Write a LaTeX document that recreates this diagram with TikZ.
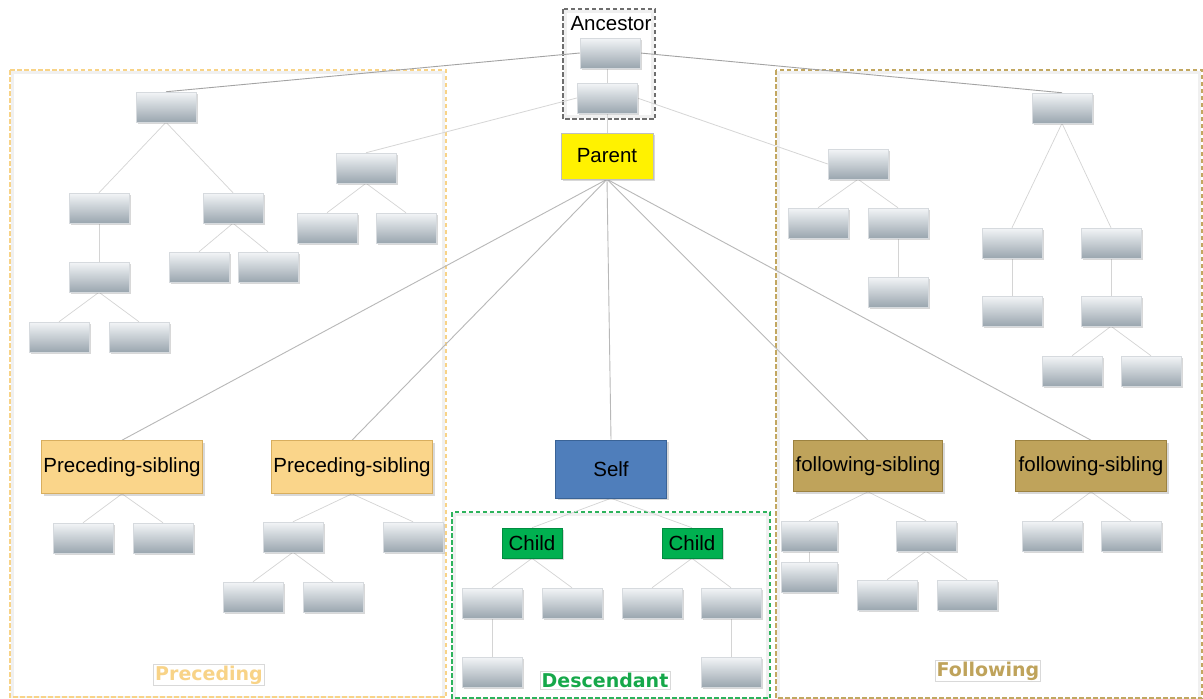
\documentclass[tikz,border=0pt]{standalone}
\usepackage{fontspec}
\setmainfont{Liberation Sans}
\newfontfamily\labelfont{DejaVu Sans}
\usetikzlibrary{shadows}

\definecolor{boxtop}{HTML}{F3F5F7}
\definecolor{boxbot}{HTML}{9AA6AF}
\definecolor{boxline}{HTML}{D6DADE}
\definecolor{precfill}{HTML}{FAD58A}
\definecolor{precline}{HTML}{D8AE5E}
\definecolor{precdash}{HTML}{F8D387}
\definecolor{follfill}{HTML}{BFA35B}
\definecolor{follline}{HTML}{9C8240}
\definecolor{folldash}{HTML}{C2A760}
\definecolor{selffill}{HTML}{4F7EBB}
\definecolor{selfline}{HTML}{3A6396}
\definecolor{childfill}{HTML}{00B050}
\definecolor{descdash}{HTML}{2DB35C}
\definecolor{desctext}{HTML}{16A84A}
\definecolor{anclinec}{HTML}{6E6E6E}

\pgfdeclarelayer{canvas}
\pgfdeclarelayer{bg}
\pgfsetlayers{canvas,bg,main}

\tikzset{
  gbox/.style={rectangle, minimum width=60pt, minimum height=30pt, inner sep=0pt,
    draw=boxline, line width=0.5pt, top color=boxtop, bottom color=boxbot,
    drop shadow={shadow xshift=1.5pt, shadow yshift=-1.5pt, opacity=0.3}},
  cbox/.style={rectangle, inner sep=0pt, line width=0.6pt,
    font=\fontsize{20.5}{23}\selectfont,
    drop shadow={shadow xshift=2pt, shadow yshift=-2pt, opacity=0.3}},
  tedge/.style={draw=black!17, line width=0.7pt},
  pedge/.style={draw=black!28, line width=0.9pt},
  aedge/.style={draw=black!36, line width=0.9pt},
  ledge/.style={draw=black!16, line width=0.8pt},
  halo/.style={draw=black!6, line width=2.5pt},
  framedash/.style={dashed, dash pattern=on 4.5pt off 2.5pt, line width=1.4pt},
  grouplabel/.style={font=\labelfont\bfseries\fontsize{19}{22}\selectfont,
    draw=black!15, line width=0.6pt, inner sep=1.5pt, fill=white},
}

\begin{document}
\begin{tikzpicture}[x=1pt, y=-1pt]
\useasboundingbox (0,0) rectangle (1203,699);
\begin{pgfonlayer}{canvas}
  \fill[white] (0,0) rectangle (1203,699);
\end{pgfonlayer}

% group frames: faint inner band, then the dashed outline
\begin{pgfonlayer}{bg}
  \draw[halo] (12.5,72.5) rectangle (443.5,697);
  \draw[framedash, draw=precdash] (10,70) rectangle (446,697);
  \draw[halo] (778.5,72.5) rectangle (1199.5,699);
  \draw[framedash, draw=folldash] (776,70) rectangle (1202,698);
  \draw[halo] (454.5,514.5) rectangle (767.5,699);
  \draw[framedash, draw=descdash] (452,512) rectangle (770,698);
  \draw[halo] (565.5,11.5) rectangle (652.5,116.5);
  \draw[framedash, draw=anclinec, line width=1.2pt] (563,9) rectangle (655,119);
\end{pgfonlayer}

% ancestor axis
\node[font=\fontsize{20.5}{23}\selectfont] (anc) at (611,24) {Ancestor};
\node[gbox] (a1) at (610,53) {};
\node[gbox] (a2) at (607,98) {};
\node[cbox, fill=yellow, draw=black!25, minimum width=92pt, minimum height=46pt] (parent) at (607,156) {Parent};

% preceding side
\node[gbox] (l1) at (166,107) {};
\node[gbox] (l2a) at (99,208) {};
\node[gbox] (l2b) at (233,208) {};
\node[gbox] (l3) at (99,277) {};
\node[gbox] (l4a) at (59,337) {};
\node[gbox] (l4b) at (139,337) {};
\node[gbox] (l2ba) at (199,267) {};
\node[gbox] (l2bb) at (268,267) {};
\node[gbox] (lm) at (366,168) {};
\node[gbox] (lma) at (327,228) {};
\node[gbox] (lmb) at (406,228) {};

\node[cbox, fill=precfill, draw=precline, minimum width=161pt, minimum height=53pt] (ps1) at (122,467) {Preceding-sibling};
\node[cbox, fill=precfill, draw=precline, minimum width=161pt, minimum height=53pt] (ps2) at (352,467) {Preceding-sibling};
\node[gbox] (ps1a) at (83,538) {};
\node[gbox] (ps1b) at (163,538) {};
\node[gbox] (ps2a) at (293,537) {};
\node[gbox] (ps2b) at (413,537) {};
\node[gbox] (ps2aa) at (253,597) {};
\node[gbox] (ps2ab) at (333,597) {};

% self and descendants
\node[cbox, fill=selffill, draw=selfline, minimum width=111pt, minimum height=58pt] (self) at (611,469) {Self};
\node[cbox, fill=childfill, draw=childfill!80!black, minimum width=60pt, minimum height=30pt] (c1) at (532,543) {Child};
\node[cbox, fill=childfill, draw=childfill!80!black, minimum width=60pt, minimum height=30pt] (c2) at (692,543) {Child};
\node[gbox] (c1a) at (492,603) {};
\node[gbox] (c1b) at (572,603) {};
\node[gbox] (c2a) at (652,603) {};
\node[gbox] (c2b) at (731,603) {};
\node[gbox] (c1aa) at (492,672) {};
\node[gbox] (c2bb) at (731,672) {};

% following side
\node[gbox] (r1) at (1062,108) {};
\node[gbox] (rm) at (858,164) {};
\node[gbox] (rma) at (818,223) {};
\node[gbox] (rmb) at (898,223) {};
\node[gbox] (rmbb) at (898,292) {};
\node[gbox] (r2a) at (1012,243) {};
\node[gbox] (r2b) at (1111,243) {};
\node[gbox] (r3a) at (1012,311) {};
\node[gbox] (r3b) at (1111,311) {};
\node[gbox] (r4a) at (1072,371) {};
\node[gbox] (r4b) at (1151,371) {};

\node[cbox, fill=follfill, draw=follline, minimum width=149pt, minimum height=51pt] (fs1) at (868,466) {following-sibling};
\node[cbox, fill=follfill, draw=follline, minimum width=151pt, minimum height=51pt] (fs2) at (1091,466) {following-sibling};
\node[gbox, minimum width=56pt] (fs1a) at (809,536) {};
\node[gbox, minimum width=56pt] (fs1aa) at (809,577) {};
\node[gbox] (fs1b) at (926,536) {};
\node[gbox] (fs1ba) at (887,595) {};
\node[gbox] (fs1bb) at (967,595) {};
\node[gbox] (fs2a) at (1052,536) {};
\node[gbox] (fs2b) at (1131,536) {};

% group captions
\node[grouplabel, text=precdash] (lblprec) at (209,675) {Preceding};
\node[grouplabel, text=desctext] (lbldesc) at (605,680) {Descendant};
\node[grouplabel, text=follfill] (lblfoll) at (988,671) {Following};

% connectors
\begin{pgfonlayer}{bg}
  \draw[aedge] (a1.west) -- (l1.north);
  \draw[aedge] (a1.east) -- (r1.north);
  \draw[tedge] (a2.north |- a1.south) -- (a2.north);
  \draw[ledge] (a2.west) -- (lm.north);
  \draw[ledge] (a2.east) -- (rm.west);
  \draw[tedge] (a2.south) -- (parent.north);

  \foreach \t in {ps1,ps2,self,fs1,fs2}
    \draw[pedge] (parent.south) -- (\t.north);

  \foreach \p/\c in {l1/l2a, l1/l2b, l2a/l3, l3/l4a, l3/l4b, l2b/l2ba, l2b/l2bb,
                     lm/lma, lm/lmb,
                     ps1/ps1a, ps1/ps1b, ps2/ps2a, ps2/ps2b, ps2a/ps2aa, ps2a/ps2ab,
                     self/c1, self/c2, c1/c1a, c1/c1b, c2/c2a, c2/c2b, c1a/c1aa, c2b/c2bb,
                     rm/rma, rm/rmb, rmb/rmbb, r1/r2a, r1/r2b, r2a/r3a, r2b/r3b, r3b/r4a, r3b/r4b,
                     fs1/fs1a, fs1a/fs1aa, fs1/fs1b, fs1b/fs1ba, fs1b/fs1bb, fs2/fs2a, fs2/fs2b}
    \draw[tedge] (\p.south) -- (\c.north);
\end{pgfonlayer}
\end{tikzpicture}
\end{document}
